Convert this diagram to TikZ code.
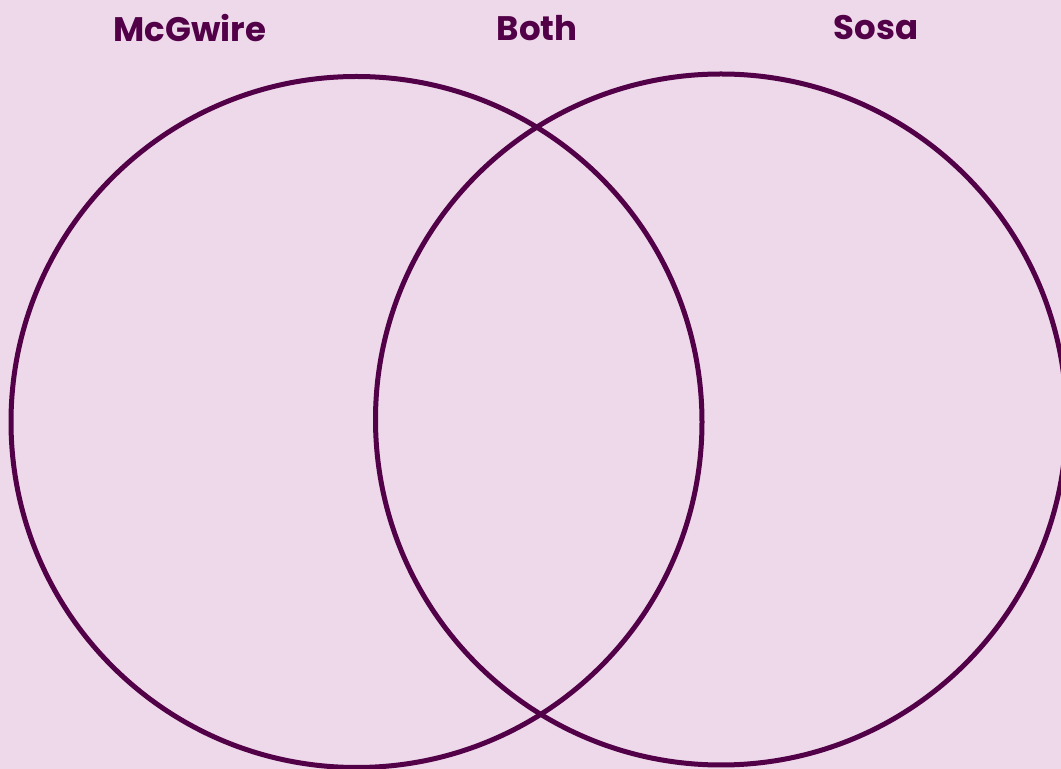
\documentclass[tikz,border=0pt]{standalone}
\usepackage{fontspec}
\setmainfont{Poppins}
\usepackage{tikz}
\usetikzlibrary{positioning}
\definecolor{vennback}{HTML}{EDD9EA}
\definecolor{venndark}{HTML}{520047}

\begin{document}
\begin{tikzpicture}[
    x=0.5pt, y=-0.5pt,
    set/.style={circle, draw=venndark, line width=2.5pt, minimum size=345.5pt, inner sep=0pt},
    title/.style={text=venndark, font=\fontsize{17}{20}\selectfont\bfseries, inner sep=0pt}
  ]

    % background
    \fill[vennback] (0,0) rectangle (1061,769);
    \useasboundingbox (0,0) rectangle (1061,769);

    % the two sets
    \node[set] (mcgwire) at (356.5,422) {};
    \node[set] (sosa) at (721,419.5) {};

    % headings
    \node[title] (mcgwirelabel) at (190,28) {McGwire};
    \node[title] (bothlabel) at (537,28) {Both};
    \node[title] (sosalabel) at (876,28) {Sosa};
  \end{tikzpicture}
\end{document}
